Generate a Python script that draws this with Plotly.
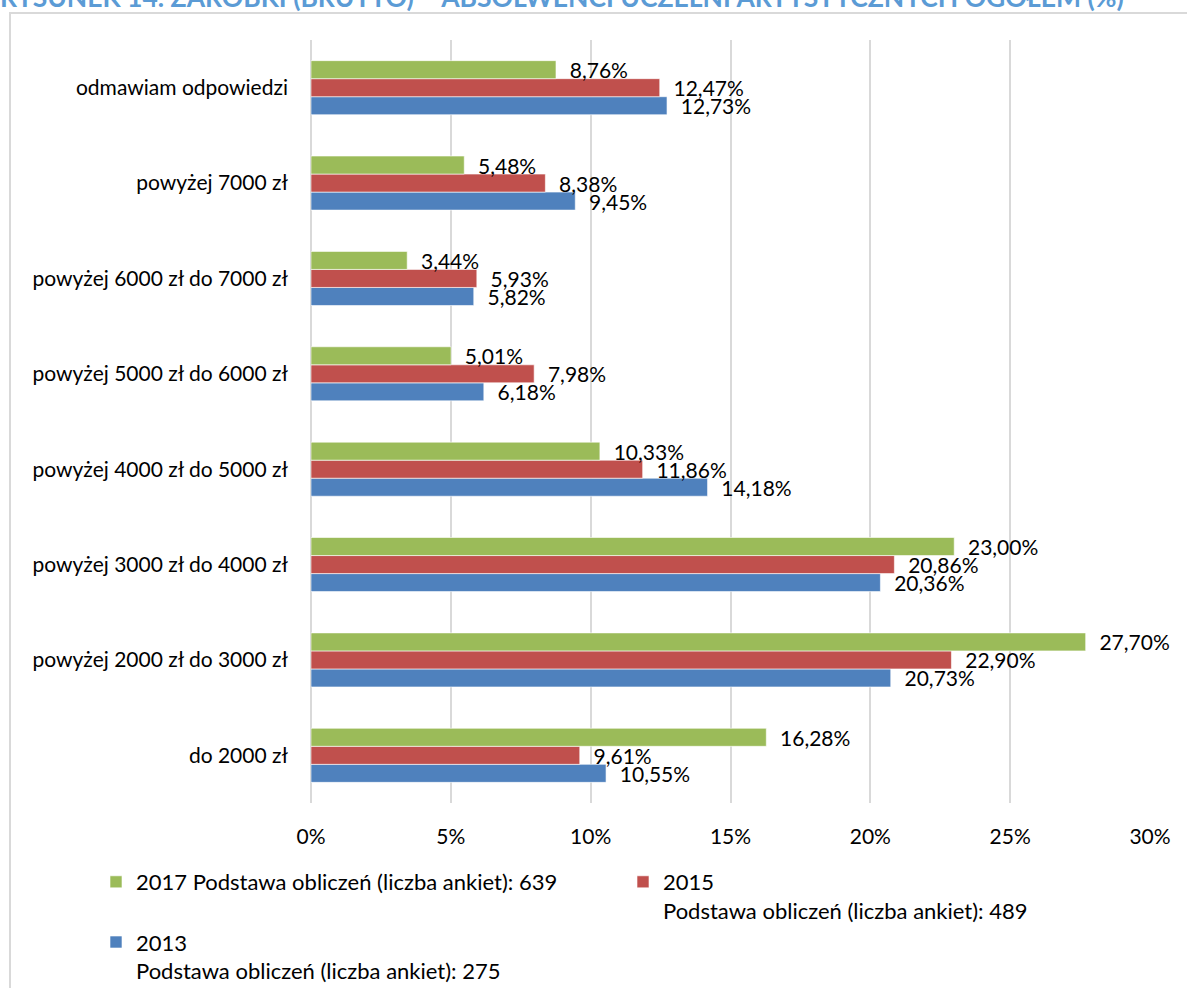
import plotly.graph_objects as go

categories = ["do 2000 zł", "powyżej 2000 zł do 3000 zł", "powyżej 3000 zł do 4000 zł",
              "powyżej 4000 zł do 5000 zł", "powyżej 5000 zł do 6000 zł",
              "powyżej 6000 zł do 7000 zł", "powyżej 7000 zł", "odmawiam odpowiedzi"]
v2013 = [10.55, 20.73, 20.36, 14.18, 6.18, 5.82, 9.45, 12.73]
v2015 = [9.61, 22.90, 20.86, 11.86, 7.98, 5.93, 8.38, 12.47]
v2017 = [16.28, 27.70, 23.00, 10.33, 5.01, 3.44, 5.48, 8.76]
names = ["2013<br>Podstawa obliczeń (liczba ankiet): 275",
         "2015<br>Podstawa obliczeń (liczba ankiet): 489",
         "2017 Podstawa obliczeń (liczba ankiet): 639"]
colors = ["#4F81BD", "#C0504D", "#9BBB59"]
x_ticks = [0, 5, 10, 15, 20, 25, 30]
x_tick_labels = ["0%", "5%", "10%", "15%", "20%", "25%", "30%"]
title = "RYSUNEK 14. ZAROBKI (BRUTTO) – ABSOLWENCI UCZELNI ARTYSTYCZNYCH OGÓŁEM (%)"

W, H = 1187, 988
L, R, T, B = 311, 37, 40, 185
pw, ph = W - L - R, H - T - B

def px(x):
    return (x - L) / pw

def py(y):
    return (H - B - y) / ph

FONT = "Lato"
fig = go.Figure()
for vals, name, col in zip([v2013, v2015, v2017], names, colors):
    fig.add_trace(go.Bar(
        y=categories, x=vals, name=name, orientation="h",
        marker=dict(color=col, line=dict(color="white", width=0.6)),
        texttemplate="\u00a0\u00a0%{x:.2f}%", textposition="outside",
        constraintext="none", cliponaxis=False,
        textfont=dict(family=FONT, size=21, color="#000000"),
        hoverinfo="skip",
    ))

fig.update_layout(
    width=W, height=H,
    margin=dict(l=L, r=R, t=T, b=B, autoexpand=False),
    paper_bgcolor="white", plot_bgcolor="white",
    barmode="group", bargap=0.433, bargroupgap=0,
    separators=", ",
    font=dict(family=FONT, size=21, color="#000000"),
    showlegend=True,
    legend=dict(orientation="h", traceorder="reversed", x=px(96), xanchor="left",
                y=py(861), yanchor="top", entrywidth=482, valign="top",
                font=dict(family=FONT, size=22, color="#000000"),
                bgcolor="rgba(0,0,0,0)"),
    xaxis=dict(range=[0, 30], tickmode="array", tickvals=x_ticks, ticktext=x_tick_labels,
               showgrid=True,
               gridcolor="#D9D9D9", gridwidth=2, zeroline=True, zerolinecolor="#D9D9D9",
               zerolinewidth=2, showline=False, ticks="", ticklabelstandoff=19,
               tickfont=dict(family=FONT, size=21, color="#000000"), fixedrange=True),
    yaxis=dict(categoryorder="array", categoryarray=categories, showgrid=False,
               zeroline=False, showline=False, ticks="", ticklabelstandoff=22,
               tickfont=dict(family=FONT, size=21, color="#000000"), fixedrange=True),
    shapes=[dict(type="path", xref="paper", yref="paper",
                 path=f"M {px(10)} {py(H+5)} L {px(10)} {py(13)} L {px(W+5)} {py(13)}",
                 line=dict(color="#D9D9D9", width=2))],
    annotations=[dict(text=f"<b>{title}</b>", xref="paper", yref="paper",
                      x=px(-2), y=py(-3), xanchor="left", yanchor="middle",
                      showarrow=False,
                      font=dict(family=FONT, size=26.5, color="#5B9BD5"))],
)

fig.write_html("out.html", config={"displayModeBar": False},
               post_script="document.body.style.margin='0';")
